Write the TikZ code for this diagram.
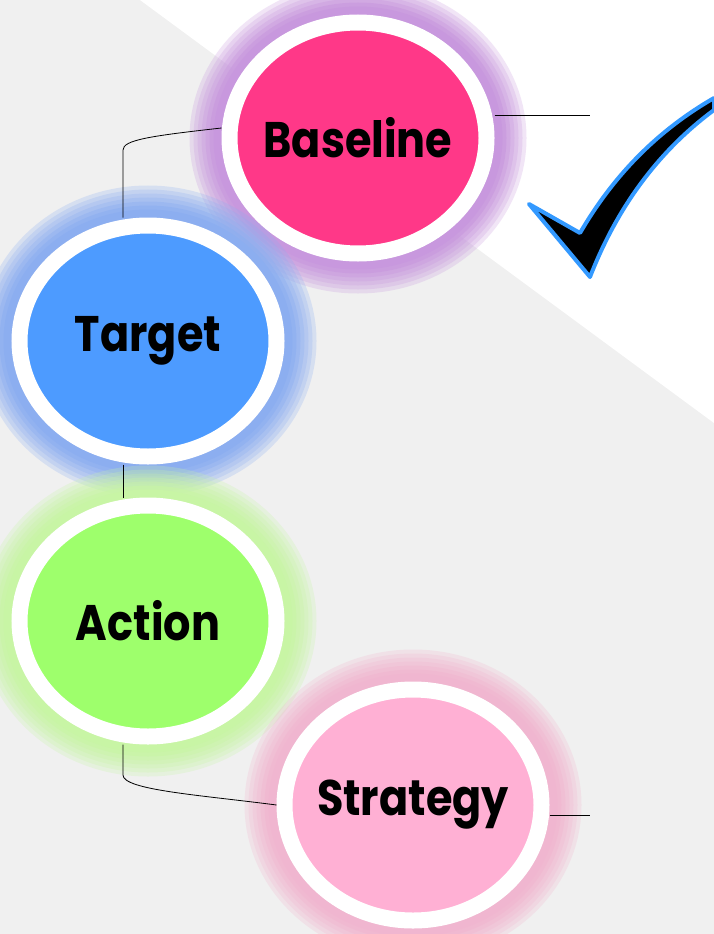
\documentclass[tikz,border=0pt]{standalone}
\usepackage{fontspec}
\setmainfont{Poppins}
\newfontfamily\bubblefont{Poppins}[FakeStretch=0.86]
\usetikzlibrary{shapes.geometric}
\definecolor{pinkA}{RGB}{255,56,136}
\definecolor{blueA}{RGB}{77,155,255}
\definecolor{greenA}{RGB}{158,255,108}
\definecolor{pinkB}{RGB}{255,176,212}
\definecolor{glowA}{RGB}{200,152,222}
\definecolor{glowB}{RGB}{140,174,240}
\definecolor{glowC}{RGB}{200,245,165}
\definecolor{glowD}{RGB}{240,182,208}
\definecolor{checkblue}{RGB}{51,153,255}
\definecolor{paper}{RGB}{240,240,240}
\begin{document}
\begin{tikzpicture}
                [x=1pt, y=-1pt,
                 bubble/.style={ellipse, draw=white, line width=16pt, minimum width=257pt, minimum height=231pt, inner sep=0pt},
                 every label/.style={font=\bubblefont\fontsize{50}{50}\selectfont\bfseries, inner sep=0pt},
                 glow/.style={preaction={draw=#1, opacity=.25, line width=80pt}, preaction={draw=#1, opacity=.25, line width=72pt}, preaction={draw=#1, opacity=.25, line width=64pt}, preaction={draw=#1, opacity=.3, line width=56pt}, preaction={draw=#1, opacity=.4, line width=48pt}, preaction={draw=#1, opacity=.6, line width=40pt}, preaction={draw=#1, line width=32pt}},
                 edge/.style={draw, thick},
                 check/.style={fill=black, draw=checkblue, line width=4pt, line join=round}]
                \useasboundingbox (0,0) rectangle (714,934);
                % Background
                \fill[paper] (0,0) rectangle (714,934);
                \fill[white] (140,0) -- (714,0) -- (714,423) -- cycle;
                % Define nodes
                \node[bubble, glow=glowA, fill=pinkA, label=center:Baseline] (Baseline) at (358,138) {};
                \node[bubble, glow=glowB, fill=blueA, label=center:Target] (Target) at (148,341) {};
                \node[bubble, glow=glowC, fill=greenA, label=center:Action] (Action) at (148,621) {};
                \node[bubble, glow=glowD, fill=pinkB, label=center:Strategy] (Strategy) at (413,805) {};
                \coordinate (bend1) at (123,150);
                \coordinate (bend2) at (123,775);
                \coordinate (end1) at (590,115);
                \coordinate (end2) at (590,815);
                % Define edges
                \draw[edge] (Baseline.west |- 0,128) .. controls (150,136) and (123,140) .. (bend1) -- (Target.north -| bend1);
                \draw[edge] (Target.south -| bend1) -- (Action.north -| bend1);
                \draw[edge] (Action.south -| bend2) -- (bend2) .. controls (123,790) and (200,795) .. (Strategy.west);
                \draw[edge] (Baseline.east |- end1) -- (end1);
                \draw[edge] (Strategy.east |- end2) -- (end2);
                % Check mark
                \draw[check] (529,204) -- (580,233) .. controls (612,178) and (655,132) .. (714,98) -- (714,110) .. controls (660,150) and (618,205) .. (590,277) -- cycle;
\end{tikzpicture}
\end{document}
